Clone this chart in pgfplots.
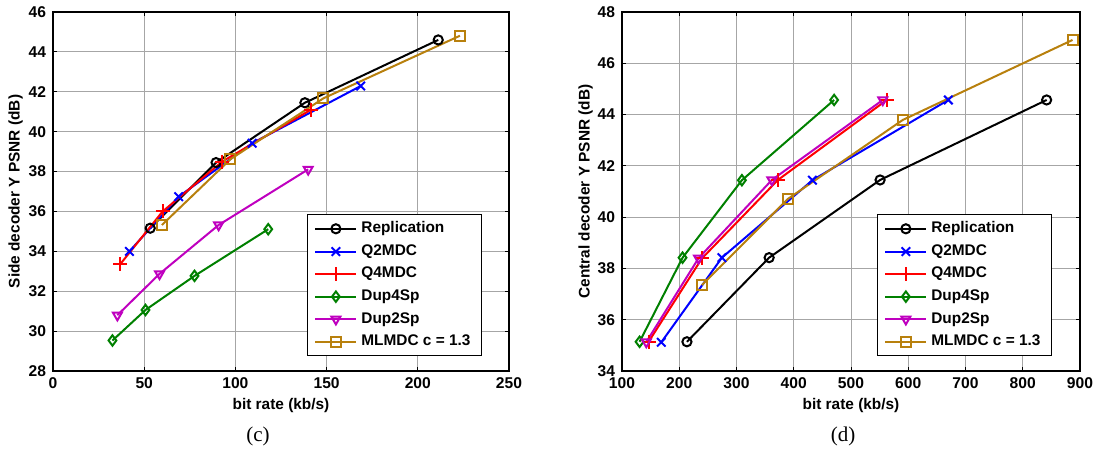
\documentclass[border=0pt]{standalone}
\usepackage{pgfplots}
\pgfplotsset{compat=1.18}
\usepackage{fontspec}
\setmainfont{Liberation Sans}
\newfontfamily\capfont{Liberation Serif}

\definecolor{mgreen}{rgb}{0,0.5,0}
\definecolor{mmag}{rgb}{0.75,0,0.75}
\definecolor{mgold}{rgb}{0.72,0.5,0.05}

\pgfplotsset{
  panel/.style={
    width=228pt, height=179.5pt,
    scale only axis,
    anchor=south west,
    grid=major,
    grid style={gray!70, line width=0.4pt},
    axis line style={line width=0.6pt},
    tick align=inside,
    major tick length=2pt,
    tick style={black, line width=0.5pt},
    /pgf/number format/assume math mode=true,
    ticklabel style={font=\fontsize{7.8}{9}\selectfont\bfseries},
    label style={font=\fontsize{7.7}{9}\selectfont\bfseries},
    xlabel={bit rate (kb/s)},
    xlabel style={yshift=2.5pt},
    legend cell align=left,
    legend style={
      font=\fontsize{7.7}{10.5}\selectfont\bfseries,
      draw=black, line width=0.6pt,
      anchor=north east,
      inner xsep=3.5pt, inner ysep=1.5pt,
      row sep=0.4pt,
    },
    legend image code/.code={
      \draw[mark repeat=2,mark phase=2] plot coordinates {(0cm,0cm) (0.36cm,0cm) (0.72cm,0cm)};
    },
    every axis plot/.append style={line width=1pt, mark size=2.3pt, mark options={solid}},
  },
}

\begin{document}
\begin{tikzpicture}
\path[use as bounding box] (0,0) rectangle (547.5pt,-225pt);

% (c) side decoder
\begin{axis}[
  panel,
  at={(26.5pt,-185.5pt)},
  xmin=0, xmax=250, ymin=28, ymax=46,
  xtick={0,50,100,150,200,250},
  ytick={28,30,32,34,36,38,40,42,44,46},
  ylabel={Side decoder Y PSNR (dB)},
  ylabel style={yshift=-4pt},
  legend style={at={(0.941,0.437)}},
]
\addplot[black, mark=o] coordinates {(53.3,35.16)(89.4,38.45)(138.1,41.45)(211.2,44.6)};
\addlegendentry{Replication}
\addplot[blue, mark=x, mark size=3pt] coordinates {(41.9,34.0)(68.9,36.74)(109.2,39.42)(168.7,42.29)};
\addlegendentry{Q2MDC}
\addplot[red, mark=+, mark size=3.5pt] coordinates {(36.8,33.35)(60.1,36.0)(92.7,38.5)(141.2,41.09)};
\addlegendentry{Q4MDC}
\addplot[mgreen, mark=diamond, mark size=2.6pt] coordinates {(32.6,29.53)(50.7,31.06)(77.6,32.77)(118,35.11)};
\addlegendentry{Dup4Sp}
\addplot[mmag, mark=triangle, mark size=2.6pt, mark options={rotate=180}] coordinates {(35.3,30.8)(58.4,32.87)(90.8,35.32)(139.9,38.11)};
\addlegendentry{Dup2Sp}
\addplot[mgold, mark=square, mark size=2.5pt] coordinates {(59.7,35.32)(97.3,38.62)(148.2,41.67)(223.1,44.81)};
\addlegendentry{MLMDC c = 1.3}
\end{axis}

% (d) central decoder
\begin{axis}[
  panel,
  width=229pt,
  at={(311pt,-185.5pt)},
  xmin=100, xmax=900, ymin=34, ymax=48,
  xtick={100,200,300,400,500,600,700,800,900},
  ytick={34,36,38,40,42,44,46,48},
  ylabel={Central decoder Y PSNR (dB)},
  ylabel style={yshift=-4.5pt},
  legend style={at={(0.939,0.437)}},
]
\addplot[black, mark=o] coordinates {(213.4,35.14)(357,38.42)(550.8,41.45)(841.7,44.57)};
\addlegendentry{Replication}
\addplot[blue, mark=x, mark size=3pt] coordinates {(168.6,35.12)(274.5,38.42)(432.6,41.44)(670,44.57)};
\addlegendentry{Q2MDC}
\addplot[red, mark=+, mark size=3.5pt] coordinates {(146.4,35.14)(239.6,38.39)(372.3,41.45)(562.5,44.57)};
\addlegendentry{Q4MDC}
\addplot[mgreen, mark=diamond, mark size=2.6pt] coordinates {(130.7,35.14)(205.8,38.42)(309.4,41.44)(470.5,44.57)};
\addlegendentry{Dup4Sp}
\addplot[mmag, mark=triangle, mark size=2.6pt, mark options={rotate=180}] coordinates {(142.4,35.13)(233.7,38.4)(361.8,41.45)(555.5,44.57)};
\addlegendentry{Dup2Sp}
\addplot[mgold, mark=square, mark size=2.5pt] coordinates {(239.6,37.35)(389.7,40.71)(590.4,43.79)(887,46.91)};
\addlegendentry{MLMDC c = 1.3}
\end{axis}

\node[font=\capfont\fontsize{10.5}{12}\selectfont] at (129pt,-218pt) {(c)};
\node[font=\capfont\fontsize{10.5}{12}\selectfont] at (421.5pt,-218pt) {(d)};
\end{tikzpicture}
\end{document}
